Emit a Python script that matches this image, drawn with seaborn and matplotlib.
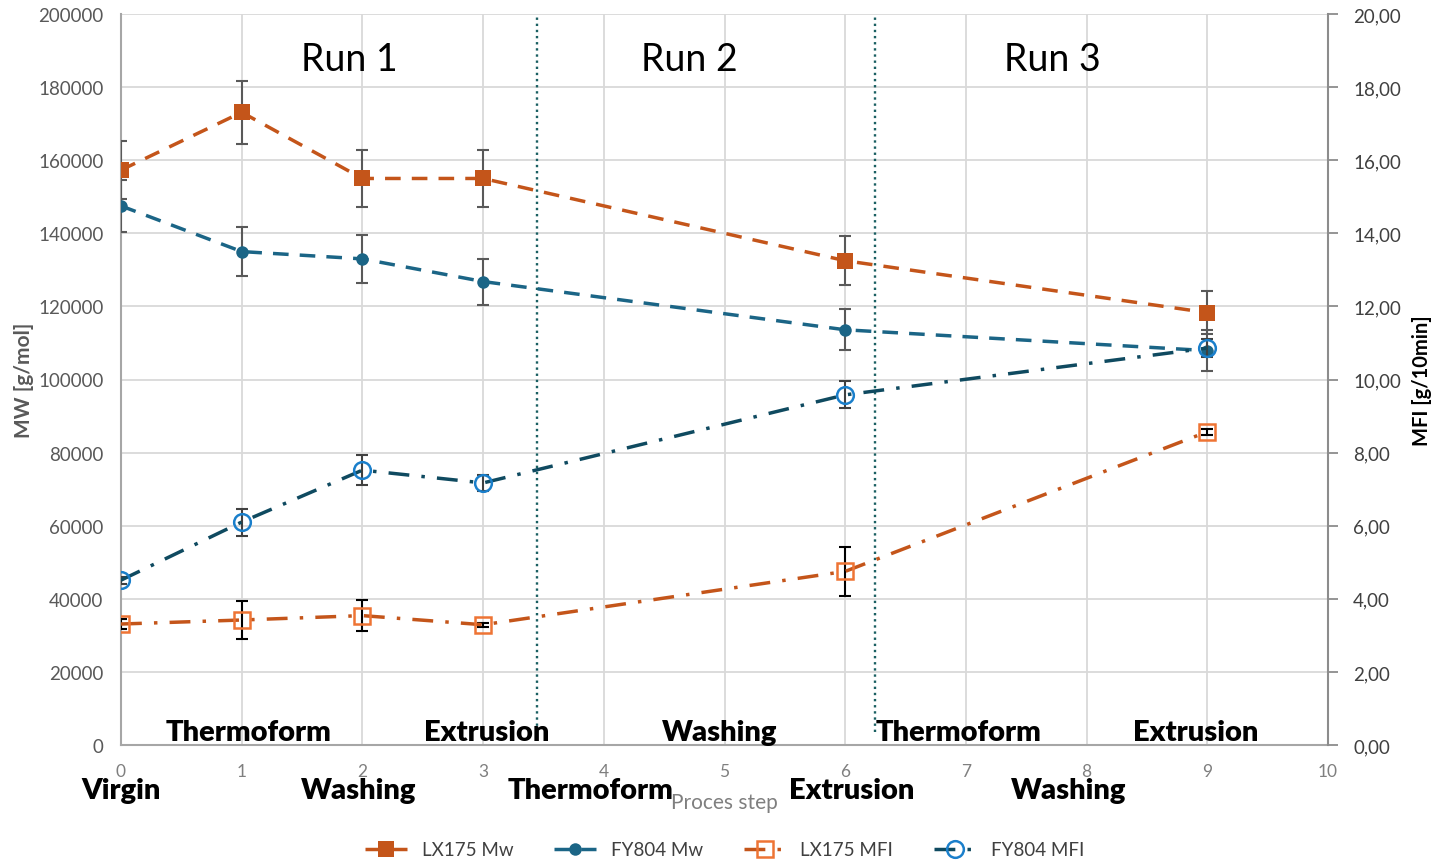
import matplotlib
matplotlib.use("Agg")
import matplotlib.pyplot as plt
import seaborn as sns
import numpy as np
import pandas as pd

# Process steps where samples were taken
steps = [0, 1, 2, 3, 6, 9]

# Molecular weight (left axis)
lx175_mw = [157300, 173100, 155000, 155000, 132500, 118300]
lx175_mw_err = [8000, 8700, 7800, 7800, 6700, 5900]
fy804_mw = [147500, 135000, 133000, 126800, 113600, 107900]
fy804_mw_err = [7200, 6700, 6600, 6300, 5600, 5700]

# Melt flow index (right axis)
lx175_mfi = [3.31, 3.42, 3.54, 3.29, 4.75, 8.57]
lx175_mfi_err = [0.14, 0.51, 0.42, 0.05, 0.67, 0.08]
fy804_mfi = [4.51, 6.10, 7.52, 7.17, 9.58, 10.86]
fy804_mfi_err = [0.10, 0.37, 0.41, 0.22, 0.37, 0.25]

run_labels = ["Run 1", "Run 2", "Run 3"]
run_label_x = [1.89, 4.71, 7.72]
run_boundaries = [3.45, 6.25]

# Process step names: inside the plot area and below the axis
inner_steps = ["Thermoform", "Extrusion", "Washing", "Thermoform", "Extrusion"]
inner_x = [1.06, 3.03, 4.96, 6.94, 8.90]
outer_steps = ["Virgin", "Washing", "Thermoform", "Extrusion", "Washing"]
outer_x = [0.0, 1.97, 3.89, 6.05, 7.85]

df = pd.DataFrame({
    "step": steps,
    "lx175_mw": lx175_mw, "fy804_mw": fy804_mw,
    "lx175_mfi": lx175_mfi, "fy804_mfi": fy804_mfi,
})

sns.set_theme(style="white")
plt.rcParams["font.family"] = ["Lato", "DejaVu Sans"]

ORANGE = "#C4551A"
ORANGE_LIGHT = "#EE7434"
TEAL = "#1B6586"
TEAL_DARK = "#0F4A60"
BLUE = "#1A7FCB"
GRID = "#D9D9D9"
AXGRAY = "#A6A6A6"
TXTGRAY = "#595959"

fig = plt.figure(figsize=(14.35, 8.62), dpi=100)
ax = fig.add_axes([121 / 1435, 1 - 746 / 862, (1328 - 121) / 1435, (746 - 15) / 862])
ax2 = ax.twinx()

dash = (0, (4.5, 3.2))
dashdot = (0, (6, 3.5, 1, 3.5))

# --- Mw series (left axis)
sns.lineplot(data=df, x="step", y="lx175_mw", ax=ax, color=ORANGE, linewidth=2.5,
             linestyle=dash, marker="s", markersize=12, markeredgewidth=0,
             markerfacecolor=ORANGE, label="LX175 Mw", legend=False, zorder=4)
sns.lineplot(data=df, x="step", y="fy804_mw", ax=ax, color=TEAL, linewidth=2.5,
             linestyle=dash, marker="o", markersize=9, markeredgewidth=0,
             markerfacecolor=TEAL, label="FY804 Mw", legend=False, zorder=4)
ax.errorbar(steps, lx175_mw, yerr=lx175_mw_err, fmt="none", ecolor="#595959",
            elinewidth=1.5, capsize=4, capthick=1.5, zorder=3)
ax.errorbar(steps, fy804_mw, yerr=fy804_mw_err, fmt="none", ecolor="#595959",
            elinewidth=1.5, capsize=4, capthick=1.5, zorder=3)

# --- MFI series (right axis)
sns.lineplot(data=df, x="step", y="lx175_mfi", ax=ax2, color=ORANGE, linewidth=2.5,
             linestyle=dashdot, marker="s", markersize=12, markeredgewidth=1.8,
             markerfacecolor="none", markeredgecolor=ORANGE_LIGHT,
             label="LX175 MFI", legend=False, zorder=4)
sns.lineplot(data=df, x="step", y="fy804_mfi", ax=ax2, color=TEAL_DARK, linewidth=2.5,
             linestyle=dashdot, marker="o", markersize=12, markeredgewidth=1.8,
             markerfacecolor="none", markeredgecolor=BLUE,
             label="FY804 MFI", legend=False, zorder=4)
ax2.errorbar(steps, lx175_mfi, yerr=lx175_mfi_err, fmt="none", ecolor="black",
             elinewidth=1.5, capsize=4, capthick=1.5, zorder=3)
ax2.errorbar(steps, fy804_mfi, yerr=fy804_mfi_err, fmt="none", ecolor="#404040",
             elinewidth=1.5, capsize=4, capthick=1.5, zorder=3)

# --- Axes ranges and ticks
ax.set_xlim(0, 10)
ax.set_ylim(0, 200000)
ax.set_xticks(range(0, 11))
ax.set_yticks(range(0, 200001, 20000))
ax2.set_ylim(0, 20)
ax2.set_yticks(np.arange(0, 21, 2))
ax2.set_yticklabels([f"{v:.2f}".replace(".", ",") for v in np.arange(0, 21, 2)])

ax.grid(True, color=GRID, linewidth=1.3)
ax2.grid(False)
ax.set_axisbelow(True)

for a in (ax, ax2):
    a.spines["top"].set_visible(False)
ax.spines["right"].set_visible(False)
ax.spines["left"].set_color(AXGRAY)
ax.spines["bottom"].set_color(AXGRAY)
ax.spines["left"].set_linewidth(1.5)
ax.spines["bottom"].set_linewidth(1.5)
ax2.spines["left"].set_visible(False)
ax2.spines["bottom"].set_visible(False)
ax2.spines["right"].set_color("#8C8C8C")
ax2.spines["right"].set_linewidth(1.5)

ax.tick_params(axis="y", length=0, labelsize=13.5, labelcolor=TXTGRAY, pad=12.5)
ax.tick_params(axis="x", length=0, labelsize=12.5, labelcolor="#7F7F7F", pad=13)
ax2.tick_params(axis="y", direction="out", length=7, width=1.3, color="#8C8C8C",
                labelsize=13.5, labelcolor="#404040", pad=11)

ax.set_xlabel("Proces step", fontsize=15, color="#7F7F7F", labelpad=9)
ax.set_ylabel("MW [g/mol]", fontsize=15, fontweight="bold", color=TXTGRAY, labelpad=3)
ax2.set_ylabel("MFI [g/10min]", fontsize=14.5, fontweight="bold", color="black", labelpad=8)

# --- Run separators and labels
for xb in run_boundaries:
    ax.axvline(xb, ymin=0.018, ymax=1.0, color="#1A5F62", linestyle=(0, (1, 1.6)),
               linewidth=1.7, zorder=2)
for lab, xr in zip(run_labels, run_label_x):
    ax.text(xr, 187700, lab, ha="center", va="center", fontsize=27, color="black")

for lab, xs in zip(inner_steps, inner_x):
    ax.text(xs, 3600, lab, ha="center", va="center", fontsize=21,
            fontweight="heavy", color="black", zorder=6)
for lab, xs in zip(outer_steps, outer_x):
    ax.text(xs, -12300, lab, ha="center", va="center", fontsize=21,
            fontweight="heavy", color="black", clip_on=False)

# --- Combined legend at the bottom
h1, l1 = ax.get_legend_handles_labels()
h2, l2 = ax2.get_legend_handles_labels()
fig.legend(h1 + h2, l1 + l2, loc="center", bbox_to_anchor=(0.505, 1 - 851 / 862),
           ncol=4, frameon=False, fontsize=13.5, labelcolor="#404040",
           handlelength=2.2, columnspacing=2.2)

fig.savefig("out.png", dpi=100)
